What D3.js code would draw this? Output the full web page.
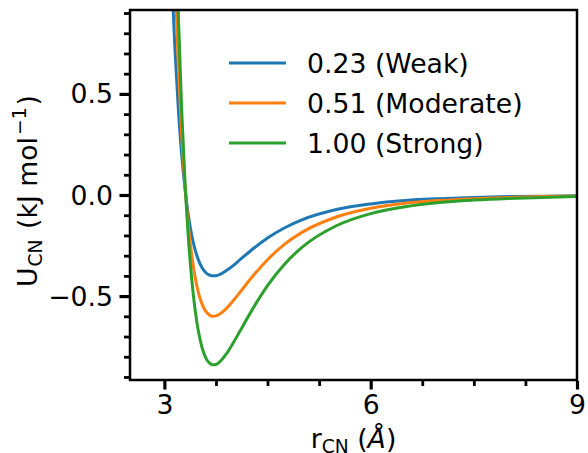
<!DOCTYPE html>
<html>
<head>
<meta charset="utf-8">
<script src="https://cdn.jsdelivr.net/npm/d3@7"></script>
<style>
  html, body { margin: 0; padding: 0; background: #fff; }
  svg { display: block; font-family: "DejaVu Sans", sans-serif; }
</style>
</head>
<body>
<svg id="chart" width="588" height="453"></svg>
<script>
// ---- data ----
const rValues = [3.00, 3.05, 3.10, 3.15, 3.20, 3.25, 3.30, 3.35, 3.40, 3.45, 3.50, 3.55, 3.60, 3.65,
                 3.70, 3.75, 3.80, 3.90, 4.00, 4.10, 4.25, 4.50, 4.75, 5.00, 5.50, 6.00, 6.50,
                 7.00, 7.50, 8.00, 8.50, 9.00];
const weakU = [2.321, 1.657, 1.142, 0.746, 0.441, 0.205, 0.030, -0.104, -0.203, -0.275, -0.326, -0.361,
               -0.383, -0.395, -0.400, -0.399, -0.394, -0.374, -0.349, -0.320, -0.277, -0.213, -0.162,
               -0.123, -0.072, -0.044, -0.027, -0.018, -0.012, -0.008, -0.006, -0.004];
const moderateU = [3.481, 2.485, 1.714, 1.118, 0.661, 0.308, 0.045, -0.155, -0.304, -0.412, -0.489, -0.541,
                   -0.574, -0.592, -0.600, -0.598, -0.590, -0.562, -0.523, -0.481, -0.416, -0.320, -0.243,
                   -0.185, -0.109, -0.066, -0.041, -0.027, -0.018, -0.012, -0.008, -0.006];
const strongU = [4.873, 3.479, 2.399, 1.566, 0.925, 0.431, 0.063, -0.217, -0.425, -0.577, -0.684, -0.757,
                 -0.804, -0.829, -0.839, -0.838, -0.827, -0.786, -0.732, -0.673, -0.583, -0.448, -0.341,
                 -0.259, -0.152, -0.092, -0.058, -0.037, -0.025, -0.017, -0.012, -0.008];
const seriesNames = ["0.23 (Weak)", "0.51 (Moderate)", "1.00 (Strong)"];
const seriesColors = ["#1f77b4", "#ff7f0e", "#2ca02c"];
const xTicks = [3, 6, 9];
const xMinorTicks = [3.75, 4.5, 5.25, 6.75, 7.5, 8.25];
const yTicks = [-0.5, 0.0, 0.5];
const yMinorTicks = [-0.9, -0.8, -0.7, -0.6, -0.4, -0.3, -0.2, -0.1, 0.1, 0.2, 0.3, 0.4, 0.6, 0.7, 0.8, 0.9];
const xDomain = [2.5, 9];
const yDomain = [-0.915, 0.915];

// ---- layout ----
const svg = d3.select("#chart");
const L = 130, R = 577, T = 10, B = 380;
const FS = 26.7;
const x = d3.scaleLinear().domain(xDomain).range([L, R]);
const y = d3.scaleLinear().domain(yDomain).range([B, T]);

svg.append("defs").append("clipPath").attr("id", "clip")
  .append("rect").attr("x", L).attr("y", T).attr("width", R - L).attr("height", B - T);

const series = [weakU, moderateU, strongU];
const line = d3.line().x(d => x(d[0])).y(d => y(d[1])).curve(d3.curveMonotoneX);
const lg = svg.append("g").attr("clip-path", "url(#clip)");
series.forEach((vals, i) => {
  lg.append("path")
    .datum(rValues.map((r, j) => [r, vals[j]]))
    .attr("d", line)
    .attr("fill", "none")
    .attr("stroke", seriesColors[i])
    .attr("stroke-width", 3)
    .attr("stroke-linejoin", "round");
});

// ---- axes ----
const xAxis = d3.axisBottom(x).tickValues(xTicks).tickSize(8.5).tickFormat(d3.format("d")).tickPadding(6);
const xMinor = d3.axisBottom(x).tickValues(xMinorTicks).tickSize(5).tickFormat("");
const yAxis = d3.axisLeft(y).tickValues(yTicks).tickSize(9.5).tickFormat(d => d3.format(".1f")(d).replace("-", "\u2212")).tickPadding(5);
const yMinor = d3.axisLeft(y).tickValues(yMinorTicks).tickSize(5).tickFormat("");

function styleAxis(g, w) {
  g.select(".domain").remove();
  g.selectAll(".tick line").attr("stroke", "#000").attr("stroke-width", w);
  g.selectAll(".tick text").attr("fill", "#000").attr("font-size", FS).attr("font-family", "DejaVu Sans");
}
const gx = svg.append("g").attr("transform", `translate(0,${B + 1})`).call(xAxis);
styleAxis(gx, 3.2);
gx.selectAll(".tick text").attr("dy", null).attr("y", 32.5);
const gxm = svg.append("g").attr("transform", `translate(0,${B + 1})`).call(xMinor);
styleAxis(gxm, 2.8);
const gy = svg.append("g").attr("transform", `translate(${L - 1},0)`).call(yAxis);
styleAxis(gy, 3.2);
gy.selectAll(".tick text").attr("dy", null).attr("y", 9).attr("x", -16);
const gym = svg.append("g").attr("transform", `translate(${L - 1},0)`).call(yMinor);
styleAxis(gym, 2.8);

// frame
svg.append("rect").attr("x", L).attr("y", T).attr("width", R - L).attr("height", B - T)
  .attr("fill", "none").attr("stroke", "#000").attr("stroke-width", 2.5);

// ---- axis labels ----
const xl = svg.append("text").attr("x", (L + R) / 2).attr("y", 448)
  .attr("text-anchor", "middle").attr("font-size", FS).attr("fill", "#000");
xl.append("tspan").text("r");
xl.append("tspan").attr("font-size", FS * 0.7).attr("dy", 5).text("CN");
xl.append("tspan").attr("dy", -5).text(" (");
xl.append("tspan").attr("font-style", "italic").text("Å");
xl.append("tspan").text(")");

const yl = svg.append("text").attr("transform", `translate(36.5,${(T + B) / 2 - 4}) rotate(-90)`)
  .attr("text-anchor", "middle").attr("font-size", FS).attr("fill", "#000");
yl.append("tspan").text("U");
yl.append("tspan").attr("font-size", FS * 0.7).attr("dy", 5).attr("dx", 1).text("CN");
yl.append("tspan").attr("dy", -5).attr("dx", 2).text(" (kJ mol");
yl.append("tspan").attr("font-size", FS * 0.7).attr("dy", -11).attr("dx", 2).text("\u22121");
yl.append("tspan").attr("dy", 11).attr("dx", 2).text(")");

// ---- legend ----
const leg = svg.append("g");
seriesNames.forEach((name, i) => {
  const yy = 63 + i * 40;
  leg.append("line").attr("x1", 229).attr("x2", 286).attr("y1", yy).attr("y2", yy)
    .attr("stroke", seriesColors[i]).attr("stroke-width", 3);
  leg.append("text").attr("x", 307).attr("y", yy + 9.5).attr("font-size", FS).attr("fill", "#000").text(name);
});
</script>
</body>
</html>
